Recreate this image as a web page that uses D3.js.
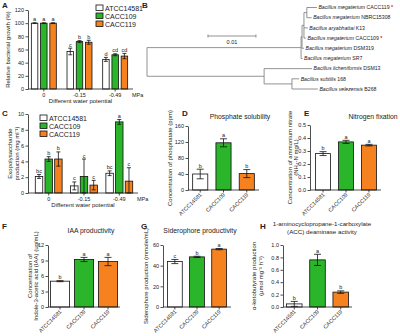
<!DOCTYPE html>
<html><head><meta charset="utf-8">
<script src="https://cdn.jsdelivr.net/npm/d3@7"></script>
<style>
body{margin:0;background:#fff}
svg text{font-family:"Liberation Sans",Arial,sans-serif;fill:#222}
</style></head><body>
<svg id="fig" width="400" height="336"></svg>
<script>
const strains = ['ATCC14581', 'CACC109', 'CACC119'];
const strainColors = ['#ffffff', '#2bb52b', '#f5821f'];
const potentials = ['0', '-0.15', '-0.49'];

// A - relative growth (%), rows = water potential, cols = strain
const growthVals = [[100, 100, 100], [57, 72, 71], [45, 52, 50]];
const growthErr = [[0.6, 0.6, 0.6], [5, 1.5, 3], [3, 1.5, 4]];
const growthLetters = [['a', 'a', 'a'], ['c', 'b', 'b'], ['d', 'cd', 'cd']];
const growthTicks = [0, 20, 40, 60, 80, 100, 120];

// C - exopolysaccharide (mg/ml)
const epsVals = [[2.1, 4.3, 4.3], [0.9, 2.1, 1.0], [2.5, 9.0, 1.5]];
const epsErr = [[0.25, 0.3, 0.9], [0.5, 2.2, 0.6], [0.3, 0.3, 1.7]];
const epsLetters = [['bc', 'b', 'b'], ['c', 'c', 'c'], ['bc', 'a', 'c']];
const epsTicks = [0, 2, 4, 6, 8, 10];

// D-H single measurements per strain
const phosVals = [40, 118, 41], phosErr = [12, 10, 10], phosLetters = ['b', 'a', 'b'];
const phosTicks = [0, 40, 80, 120, 160];
const nitroVals = [0.28, 0.37, 0.345], nitroErr = [0.015, 0.012, 0.006], nitroLetters = ['b', 'a', 'a'];
const nitroTicks = [0, 0.1, 0.2, 0.3, 0.4, 0.5];
const iaaVals = [5.0, 9.2, 8.8], iaaErr = [0.1, 0.4, 0.8], iaaLetters = ['b', 'a', 'a'];
const iaaTicks = [0, 3, 6, 9, 12];
const sidVals = [44, 48.5, 56], sidErr = [2, 0.6, 0.6], sidLetters = ['c', 'b', 'a'];
const sidTicks = [0, 20, 40, 60];
const accVals = [0.05, 0.76, 0.24], accErr = [0.04, 0.09, 0.02], accLetters = ['b', 'a', 'b'];
const accTicks = [0, 0.2, 0.4, 0.6, 0.8, 1.0];

// B - phylogenetic tree (branch lengths in substitutions/site)
const treeIds = ['root', 'up', 'up1', 'up2', 'pair', 'CACC119', 'NBRC15308', 'K13', 'CACC109', 'DSM319', 'SR7', 'low', 'DSM13', 'sub', '168', 'B268'];
const treeParents = ['', 'root', 'up', 'up1', 'up2', 'pair', 'pair', 'up2', 'up2', 'up1', 'up', 'root', 'low', 'low', 'sub', 'sub'];
const treeLengths = [0, 0.0321, 0.0002, 0.0004, 0.0006, 0.0021, 0.001, 0.0008, 0.0004, 0.0004, 0.0003, 0.0244, 0.01, 0.0058, 0.0015, 0.0054];
const treeSpecies = ['', '', '', '', '', 'Bacillus megaterium', 'Bacillus megaterium', 'Bacillus aryabhattai', 'Bacillus megaterium',
  'Bacillus megaterium', 'Bacillus megaterium', '', 'Bacillus licheniformis', '', 'Bacillus subtilis', 'Bacillus velezensis'];
const treeMarked = ['CACC119', 'CACC109'];

const svg = d3.select('#fig');
const FONT = '"Liberation Sans", Arial, sans-serif';

const label = (x, y, t) => svg.append('text').attr('x', x).attr('y', y)
  .attr('font-size', 8).attr('font-weight', 'bold').text(t);

function yAxis(y, x, ticks, fmt) {
  svg.append('g').attr('transform', `translate(${x},0)`)
    .call(d3.axisLeft(y).tickValues(ticks).tickSize(2.5).tickSizeOuter(0).tickPadding(1.5).tickFormat(fmt))
    .call(a => a.attr('font-size', 5.5).attr('font-family', FONT))
    .call(a => a.selectAll('path,line').attr('stroke', '#222').attr('stroke-width', 0.8));
}

function yTitle(lines, xs, yc) {
  lines.forEach((t, i) => svg.append('text')
    .attr('transform', `translate(${xs[i]},${yc}) rotate(-90)`)
    .attr('text-anchor', 'middle').attr('font-size', 6).text(t));
}

function errBars(g, data, cw) {
  g.selectAll('line.e').data(data).join('line').attr('class', 'e')
    .attr('x1', d => d.cx).attr('x2', d => d.cx).attr('y1', d => d.lo).attr('y2', d => d.hi);
  g.selectAll('line.t').data(data).join('line').attr('class', 't')
    .attr('x1', d => d.cx - cw).attr('x2', d => d.cx + cw).attr('y1', d => d.hi).attr('y2', d => d.hi);
  g.selectAll('line.b').data(data).join('line').attr('class', 'b')
    .attr('x1', d => d.cx - cw).attr('x2', d => d.cx + cw).attr('y1', d => d.lo).attr('y2', d => d.lo);
  g.selectAll('line').attr('stroke', '#111').attr('stroke-width', 0.8);
  g.selectAll('text').data(data).join('text')
    .attr('x', d => d.cx).attr('y', d => d.hi - 1.5).attr('text-anchor', 'middle')
    .attr('font-size', 5.5).text(d => d.letter);
}

function legend(x, y) {
  strains.forEach((s, i) => {
    svg.append('rect').attr('x', x).attr('y', y + i * 8).attr('width', 7).attr('height', 5.5)
      .attr('fill', strainColors[i]).attr('stroke', '#111').attr('stroke-width', 0.8);
    svg.append('text').attr('x', x + 9).attr('y', y + i * 8 + 5.5).attr('font-size', 7).text(s);
  });
}

function grouped(o) {
  const x0 = d3.scaleBand(potentials, o.range).paddingInner(o.pi).paddingOuter(o.po);
  const x1 = d3.scaleBand(strains, [0, x0.bandwidth()]).paddingInner(o.pi2);
  const y = d3.scaleLinear([0, o.yMax], [o.y0, o.y1]);
  const rows = [];
  potentials.forEach((p, gi) => strains.forEach((s, si) => rows.push({
    x: x0(p) + x1(s), w: x1.bandwidth(), v: o.vals[gi][si], e: o.errs[gi][si],
    letter: o.letters[gi][si], c: strainColors[si]
  })));
  svg.append('g').selectAll('rect').data(rows).join('rect')
    .attr('x', d => d.x).attr('y', d => y(d.v)).attr('width', d => d.w).attr('height', d => o.y0 - y(d.v))
    .attr('fill', d => d.c).attr('stroke', '#111').attr('stroke-width', 0.8);
  errBars(svg.append('g'), rows.map(d => ({cx: d.x + d.w / 2, lo: y(Math.max(0, d.v - d.e)), hi: y(d.v + d.e), letter: d.letter})), d3.min([2, x1.bandwidth() / 3]));
  yAxis(y, o.axisX, o.ticks, o.fmt);
  const xa = svg.append('g').attr('stroke', '#222').attr('stroke-width', 0.8);
  xa.append('line').attr('x1', o.axisX).attr('x2', o.range[1]).attr('y1', o.y0).attr('y2', o.y0);
  xa.selectAll('line.tk').data(potentials).join('line').attr('class', 'tk')
    .attr('x1', p => x0(p) + x0.bandwidth() / 2).attr('x2', p => x0(p) + x0.bandwidth() / 2)
    .attr('y1', o.y0).attr('y2', o.y0 + 2.5);
  svg.append('g').selectAll('text').data(potentials).join('text')
    .attr('x', p => x0(p) + x0.bandwidth() / 2).attr('y', o.y0 + 7.5)
    .attr('text-anchor', 'middle').attr('font-size', 5.5).text(p => p);
  svg.append('text').attr('x', o.range[1] - 1).attr('y', o.y0 + 7.5).attr('font-size', 5.5).text('MPa');
  svg.append('text').attr('x', (o.axisX + o.range[1]) / 2).attr('y', o.y0 + 13.5)
    .attr('text-anchor', 'middle').attr('font-size', 6).text('Different water potential');
  yTitle(o.ytitle, o.ytx, (o.y0 + o.y1) / 2);
}

function single(o) {
  const x = d3.scaleBand(strains, o.range).paddingInner(o.pi).paddingOuter(o.po);
  const y = d3.scaleLinear([0, o.yMax], [o.y0, o.y1]);
  svg.append('g').selectAll('rect').data(o.vals).join('rect')
    .attr('x', (d, i) => x(strains[i])).attr('y', d => y(d)).attr('width', x.bandwidth())
    .attr('height', d => o.y0 - y(d))
    .attr('fill', (d, i) => strainColors[i]).attr('stroke', '#111').attr('stroke-width', 0.8);
  errBars(svg.append('g'), o.vals.map((v, i) => ({
    cx: x(strains[i]) + x.bandwidth() / 2, lo: y(Math.max(0, v - o.errs[i])), hi: y(v + o.errs[i]), letter: o.letters[i]
  })), 3.5);
  yAxis(y, o.axisX, o.ticks, o.fmt);
  const xa = svg.append('g').attr('stroke', '#222').attr('stroke-width', 0.8);
  xa.append('line').attr('x1', o.axisX).attr('x2', o.range[1]).attr('y1', o.y0).attr('y2', o.y0);
  xa.selectAll('line.tk').data(strains).join('line').attr('class', 'tk')
    .attr('x1', s => x(s) + x.bandwidth() / 2).attr('x2', s => x(s) + x.bandwidth() / 2)
    .attr('y1', o.y0).attr('y2', o.y0 + 2.5);
  svg.append('g').selectAll('text').data(strains).join('text')
    .attr('transform', s => `translate(${x(s) + x.bandwidth() / 2 + 2},${o.y0 + 5}) rotate(-45)`)
    .attr('text-anchor', 'end').attr('font-size', 5.5).text(s => s);
  o.title.forEach((t, i) => svg.append('text').attr('x', o.titleX).attr('y', o.titleY + i * 8)
    .attr('text-anchor', 'middle').attr('font-size', o.titleSize || 6.8).text(t));
  yTitle(o.ytitle, o.ytx, (o.y0 + o.y1) / 2);
}

// ---- A
label(2, 8, 'A');
grouped({vals: growthVals, errs: growthErr, letters: growthLetters, ticks: growthTicks, fmt: d3.format('d'),
  yMax: 120, y0: 89, y1: 10, axisX: 28, range: [26, 133], pi: 0.3, po: 0.15, pi2: 0.3,
  ytitle: ['Relative bacterial growth (%)'], ytx: [10]});
legend(96, 5);

// ---- C
label(2, 116, 'C');
grouped({vals: epsVals, errs: epsErr, letters: epsLetters, ticks: epsTicks, fmt: d3.format('d'),
  yMax: 10, y0: 193, y1: 114, axisX: 28, range: [30, 138], pi: 0.24, po: 0.15, pi2: 0.23,
  ytitle: ['Exopolysaccharide', 'production (mg ml⁻¹)'], ytx: [12, 19]});
legend(40, 115);

// ---- D
label(182, 116, 'D');
single({vals: phosVals, errs: phosErr, letters: phosLetters, ticks: phosTicks, fmt: d3.format('d'),
  yMax: 160, y0: 190, y1: 126, axisX: 188, range: [188, 259], pi: 0.35, po: 0.2,
  title: ['Phosphate solubility'], titleX: 240, titleY: 119,
  ytitle: ['Concentration of phosphatate (ppm)'], ytx: [172]});

// ---- E
label(304, 116, 'E');
single({vals: nitroVals, errs: nitroErr, letters: nitroLetters, ticks: nitroTicks, fmt: d3.format('.1f'),
  yMax: 0.5, y0: 190, y1: 125, axisX: 310, range: [311, 381], pi: 0.35, po: 0.2,
  title: ['Nitrogen fixation'], titleX: 373, titleY: 119,
  ytitle: ['Concentration of ammonium nitrate', '(NH₄-N mg/L)'], ytx: [292, 298]});

// ---- F
label(2, 229, 'F');
single({vals: iaaVals, errs: iaaErr, letters: iaaLetters, ticks: iaaTicks, fmt: d3.format('d'),
  yMax: 12, y0: 307, y1: 245, axisX: 48, range: [48, 120], pi: 0.2, po: 0.1,
  title: ['IAA productivity'], titleX: 91, titleY: 233,
  ytitle: ['Concentration of', 'Indole-3-acetic acid (IAA) (ug/mL)'], ytx: [32, 38]});

// ---- G
label(141, 229, 'G');
single({vals: sidVals, errs: sidErr, letters: sidLetters, ticks: sidTicks, fmt: d3.format('d'),
  yMax: 60, y0: 307, y1: 245, axisX: 163, range: [163, 231], pi: 0.33, po: 0.2,
  title: ['Siderophore productivity'], titleX: 200, titleY: 233,
  ytitle: ['Siderophore production (mmole/mL)'], ytx: [148]});

// ---- H
label(260, 229, 'H');
single({vals: accVals, errs: accErr, letters: accLetters, ticks: accTicks, fmt: d3.format('.1f'),
  yMax: 1, y0: 307, y1: 245, axisX: 283, range: [283, 352], pi: 0.33, po: 0.15,
  title: ['1-aminocyclopropane-1-carboxylate', '(ACC) deaminase activity'], titleX: 322, titleY: 226, titleSize: 6.2,
  ytitle: ['α-ketobutyrate production', '(μmol mg⁻¹ h⁻¹)'], ytx: [256, 263]});

// ---- B tree
label(142, 8, 'B');
const root = d3.stratify().id((d, i) => treeIds[i]).parentId((d, i) => treeParents[i] || null)(treeIds.map((d, i) => i));
root.each(n => { n.len = treeLengths[n.data]; n.dist = (n.parent ? n.parent.dist : 0) + n.len; });
const tx = d3.scaleLinear([0, 0.01], [147, 195]);
const leaves = root.leaves();
const ty = d3.scalePoint(leaves.map(l => l.id), [7.5, 89]);
root.eachAfter(n => {
  n.y = n.children ? (n.children[0].y + n.children[n.children.length - 1].y) / 2 : ty(n.id);
});
const tg = svg.append('g').attr('stroke', '#777').attr('stroke-width', 0.8).attr('fill', 'none');
root.descendants().forEach(n => {
  if (n.parent) tg.append('line').attr('x1', tx(n.parent.dist)).attr('x2', tx(n.dist)).attr('y1', n.y).attr('y2', n.y);
  if (n.children) tg.append('line').attr('x1', tx(n.dist)).attr('x2', tx(n.dist))
    .attr('y1', n.children[0].y).attr('y2', n.children[n.children.length - 1].y);
});
leaves.forEach(l => {
  const t = svg.append('text').attr('x', tx(l.dist) + 1.5).attr('y', l.y + 1.8).attr('font-size', 5.2);
  t.append('tspan').attr('font-style', 'italic').text(treeSpecies[l.data] + ' ');
  t.append('tspan').text(l.id);
  if (treeMarked.includes(l.id)) t.append('tspan').attr('fill', '#d62020').attr('font-weight', 'bold').text(' *');
});
// scale bar
const sb = svg.append('g').attr('stroke', '#777').attr('stroke-width', 0.8);
sb.append('line').attr('x1', tx(0.0127)).attr('x2', tx(0.0227)).attr('y1', 36).attr('y2', 36);
[0.0127, 0.0227].forEach(v => sb.append('line').attr('x1', tx(v)).attr('x2', tx(v)).attr('y1', 34.5).attr('y2', 37.5));
svg.append('text').attr('x', tx(0.0177)).attr('y', 44).attr('text-anchor', 'middle').attr('font-size', 5.5).text('0.01');
</script>
</body></html>
